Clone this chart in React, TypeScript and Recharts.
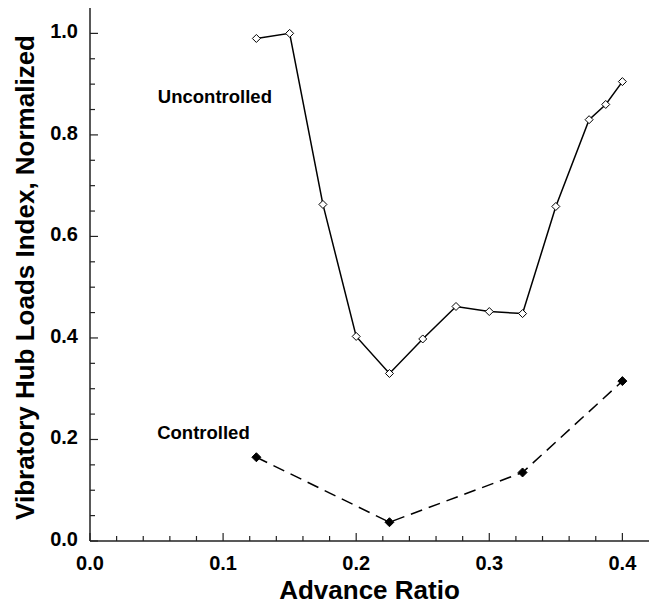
import { LineChart, Line, XAxis, YAxis, ReferenceDot } from "recharts";

const uncontrolledX = [0.125, 0.15, 0.175, 0.2, 0.225, 0.25, 0.275, 0.3, 0.325, 0.35, 0.375, 0.3875, 0.4];
const uncontrolledY = [0.99, 1.0, 0.663, 0.403, 0.33, 0.398, 0.462, 0.452, 0.448, 0.659, 0.83, 0.86, 0.905];

const controlledX = [0.125, 0.225, 0.325, 0.4];
const controlledY = [0.165, 0.037, 0.135, 0.315];

const xTicks = [0, 0.02, 0.04, 0.06, 0.08, 0.1, 0.12, 0.14, 0.16, 0.18, 0.2, 0.22, 0.24, 0.26, 0.28, 0.3, 0.32, 0.34, 0.36, 0.38, 0.4];
const yTicks = [0, 0.05, 0.1, 0.15, 0.2, 0.25, 0.3, 0.35, 0.4, 0.45, 0.5, 0.55, 0.6, 0.65, 0.7, 0.75, 0.8, 0.85, 0.9, 0.95, 1.0];

const uncontrolled = uncontrolledX.map((x, i) => ({ x, y: uncontrolledY[i] }));
const controlled = controlledX.map((x, i) => ({ x, y: controlledY[i] }));

const font = "'Liberation Sans', Arial, sans-serif";
const axisColor = "#222";

const isMajor = (v: number, step: number) => Math.abs(v / step - Math.round(v / step)) < 1e-6;

const XTick = (props: any) => {
  const { x, y, payload } = props;
  const v = payload.value;
  const major = isMajor(v, 0.1);
  return (
    <g>
      <line x1={x} x2={x} y1={y} y2={y - (major ? 8 : 5)} stroke={axisColor} strokeWidth={1.2} />
      {major && (
        <text x={x} y={y + 22} textAnchor="middle" dominantBaseline="central" fontFamily={font} fontWeight="bold" fontSize={20} fill="#000">
          {v.toFixed(1)}
        </text>
      )}
    </g>
  );
};

const YTick = (props: any) => {
  const { x, y, payload } = props;
  const v = payload.value;
  const major = isMajor(v, 0.2);
  return (
    <g>
      <line x1={x} x2={x + (major ? 8 : 5)} y1={y} y2={y} stroke={axisColor} strokeWidth={1.2} />
      {major && (
        <text x={x - 12} y={y - 2} textAnchor="end" dominantBaseline="central" fontFamily={font} fontWeight="bold" fontSize={20} fill="#000">
          {v.toFixed(1)}
        </text>
      )}
    </g>
  );
};

const OpenDiamond = (props: any) => {
  const { cx, cy } = props;
  if (cx == null || cy == null) return null;
  const r = 4;
  return <polygon points={`${cx},${cy - r} ${cx + r},${cy} ${cx},${cy + r} ${cx - r},${cy}`} fill="#fff" stroke="#000" strokeWidth={1} />;
};

const FilledDiamond = (props: any) => {
  const { cx, cy } = props;
  if (cx == null || cy == null) return null;
  const r = 4.5;
  return <polygon points={`${cx},${cy - r} ${cx + r},${cy} ${cx},${cy + r} ${cx - r},${cy}`} fill="#000" stroke="#000" strokeWidth={1} />;
};

const annotation = (text: string) => (p: any) => {
  const vb = p.viewBox;
  return (
    <text x={vb.x} y={vb.y} dominantBaseline="central" fontFamily={font} fontWeight="bold" fontSize={18.5} fill="#000">
      {text}
    </text>
  );
};

export default function App() {
  return (
    <div style={{ position: "absolute", left: 0, top: 0, width: 656, height: 606, background: "#fff" }}>
      <LineChart width={656} height={606} margin={{ top: 8, right: 7, bottom: 0, left: 0 }} style={{ overflow: "visible" }}>
        <XAxis
          dataKey="x"
          type="number"
          domain={[0, 0.42]}
          ticks={xTicks}
          interval={0}
          height={65}
          tickSize={0}
          tickMargin={0}
          tickLine={false}
          tick={<XTick />}
          axisLine={{ stroke: axisColor, strokeWidth: 1.5 }}
          allowDataOverflow
          label={{
            content: (p: any) => (
              <text x={p.viewBox.x + p.viewBox.width / 2} y={p.viewBox.y + 49} textAnchor="middle" dominantBaseline="central" fontFamily={font} fontWeight="bold" fontSize={26} fill="#000">
                Advance Ratio
              </text>
            ),
          }}
        />
        <XAxis xAxisId="top" orientation="top" type="number" domain={[0, 0.42]} height={0} tick={false} tickLine={false} axisLine={{ stroke: axisColor, strokeWidth: 1.5 }} />
        <YAxis
          type="number"
          domain={[0, 1.05]}
          ticks={yTicks}
          interval={0}
          width={90}
          tickSize={0}
          tickMargin={0}
          tickLine={false}
          tick={<YTick />}
          axisLine={{ stroke: axisColor, strokeWidth: 1.5 }}
          allowDataOverflow
          label={{
            content: (p: any) => {
              const cx = p.viewBox.x + 25;
              const cy = p.viewBox.y + p.viewBox.height / 2 + 3;
              return (
                <text x={cx} y={cy} transform={`rotate(-90 ${cx} ${cy})`} textAnchor="middle" dominantBaseline="central" fontFamily={font} fontWeight="bold" fontSize={26} fill="#000">
                  Vibratory Hub Loads Index, Normalized
                </text>
              );
            },
          }}
        />
        <YAxis yAxisId="right" orientation="right" type="number" domain={[0, 1.05]} width={0} tick={false} tickLine={false} axisLine={{ stroke: axisColor, strokeWidth: 1.5 }} />
        <Line data={uncontrolled} dataKey="y" stroke="#000" strokeWidth={1.5} dot={<OpenDiamond />} activeDot={false} isAnimationActive={false} />
        <Line data={controlled} dataKey="y" stroke="#000" strokeWidth={1.5} strokeDasharray="12 7" dot={<FilledDiamond />} activeDot={false} isAnimationActive={false} />
        <ReferenceDot x={0.051} y={0.876} r={0.01} fill="none" stroke="none" label={{ content: annotation("Uncontrolled") }} />
        <ReferenceDot x={0.0505} y={0.213} r={0.01} fill="none" stroke="none" label={{ content: annotation("Controlled") }} />
      </LineChart>
    </div>
  );
}
